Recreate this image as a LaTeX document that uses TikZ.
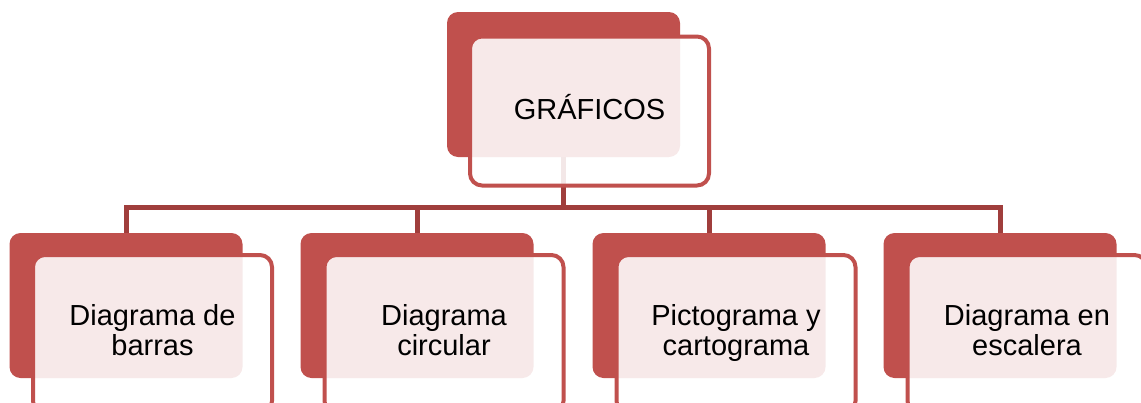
\documentclass[tikz,border=0pt]{standalone}
\usepackage{fontspec}
\setmainfont{Liberation Sans}
\usetikzlibrary{arrows}
\definecolor{ccqqqq}{rgb}{0.753,0.314,0.302}
\definecolor{zzqqqq}{rgb}{0.627,0.243,0.235}
\tikzset{back/.style={fill=ccqqqq,rounded corners=11pt,minimum width=233pt,minimum height=145pt,inner sep=0pt},
front/.style={draw=ccqqqq,line width=4pt,fill=white,fill opacity=0.88,text opacity=1,text=black,rounded corners=12pt,minimum width=239pt,minimum height=149pt,inner sep=0pt,align=center,font=\fontsize{29}{30}\selectfont},
link/.style={draw=zzqqqq,line width=5pt}}
\begin{document}
\begin{tikzpicture}[line join=miter,x=1pt,y=-1pt]
\clip(0,0) rectangle (1141,402);
\node[back] (gtop) at (563.5,84.5) {};
\node[back] (g1) at (126,305.5) {};
\node[back] (g2) at (417,305.5) {};
\node[back] (g3) at (709,305.5) {};
\node[back] (g4) at (1000,305.5) {};
\draw[link] (gtop.south) -- ++(0,50) -| (g1.north);
\draw[link] (gtop.south) -- ++(0,50) -| (g2.north);
\draw[link] (gtop.south) -- ++(0,50) -| (g3.north);
\draw[link] (gtop.south) -- ++(0,50) -| (g4.north);
\node[front] (ftop) at (589.5,111) {GRÁFICOS\strut};
\node[front,minimum height=158pt] (f1) at (152.5,334) {Diagrama de\\barras\strut};
\node[front,minimum height=158pt] (f2) at (444,334) {Diagrama\\circular\strut};
\node[front,minimum height=158pt] (f3) at (736,334) {Pictograma y\\cartograma\strut};
\node[front,minimum height=158pt] (f4) at (1027,334) {Diagrama en\\escalera\strut};
\end{tikzpicture}
\end{document}
